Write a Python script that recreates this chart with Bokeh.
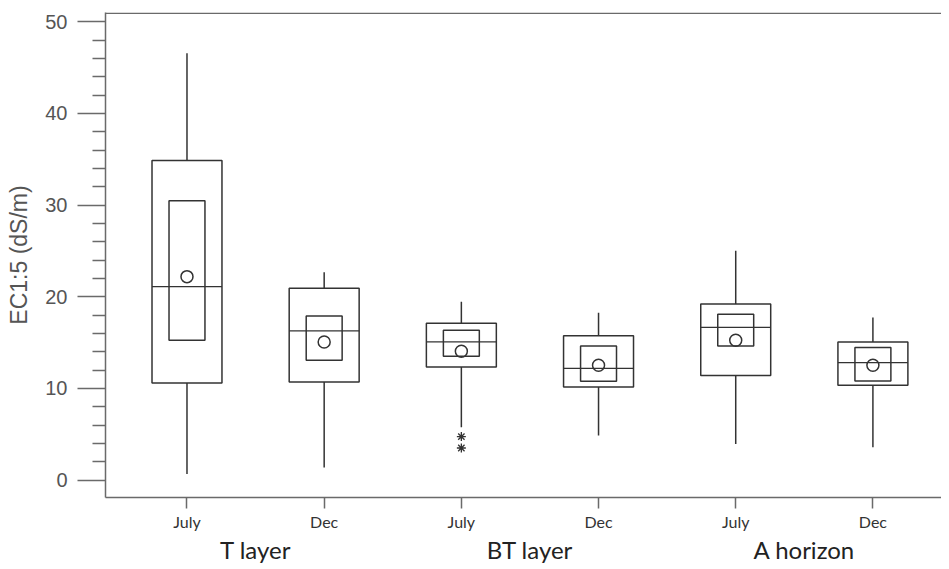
from bokeh.plotting import figure
from bokeh.models import Range1d, FixedTicker, LinearAxis, Span
from bokeh.embed import file_html
from bokeh.resources import INLINE

# ---- data ----
months = ["July", "Dec", "July", "Dec", "July", "Dec"]
groups = ["T layer", "BT layer", "A horizon"]
positions = [1, 2, 3, 4, 5, 6]
group_centers = [1.5, 3.5, 5.5]

whisker_low = [0.66, 1.38, 5.76, 4.85, 3.94, 3.57]
q1 = [10.6, 10.69, 12.33, 10.14, 11.42, 10.33]
median = [21.1, 16.28, 15.07, 12.19, 16.65, 12.81]
q3 = [34.86, 20.92, 17.1, 15.73, 19.2, 15.07]
whisker_high = [46.55, 22.67, 19.45, 18.25, 25.0, 17.74]
ci_low = [15.26, 13.07, 13.5, 10.77, 14.63, 10.8]
ci_high = [30.48, 17.89, 16.35, 14.63, 18.1, 14.46]
mean = [22.19, 15.07, 14.05, 12.52, 15.26, 12.52]
outlier_x = [3, 3]
outlier_y = [4.74, 3.5]

y_ticks = [0, 10, 20, 30, 40, 50]
y_minor = [v for v in range(2, 50, 2) if v % 10 != 0]

BOX_HALF = 0.255
CI_HALF = 0.131
LINE = "#333333"
AXIS = "#6a6a6a"

p = figure(width=941, height=566, output_backend="svg", toolbar_location=None,
           x_range=Range1d(0.406, 6.50), y_range=Range1d(-1.9, 51.0),
           min_border_left=105, min_border_right=0, min_border_top=12, min_border_bottom=0)
p.xaxis.visible = False
p.yaxis.visible = False
p.grid.visible = False
p.outline_line_color = None
p.background_fill_color = "white"
p.border_fill_color = "white"

# top frame line
p.add_layout(Span(location=50.93, dimension="width", line_color=AXIS, line_width=1.5))

# y axis
yax = LinearAxis(ticker=FixedTicker(ticks=y_ticks, minor_ticks=y_minor))
yax.axis_label = "EC1:5 (dS/m)"
yax.axis_label_text_font = "Liberation Sans"
yax.axis_label_text_font_style = "normal"
yax.axis_label_text_font_size = "23px"
yax.axis_label_text_color = "#555555"
yax.axis_label_standoff = 10
yax.major_label_text_font = "Liberation Sans"
yax.major_label_text_font_size = "20px"
yax.major_label_text_color = "#555555"
yax.major_label_standoff = 10
yax.major_tick_out = 28
yax.major_tick_in = 0
yax.minor_tick_out = 13
yax.minor_tick_in = 0
yax.axis_line_color = AXIS
yax.axis_line_width = 1.5
yax.major_tick_line_color = AXIS
yax.major_tick_line_width = 1.5
yax.minor_tick_line_color = AXIS
yax.minor_tick_line_width = 1.5
p.add_layout(yax, "left")

# x axis (months)
xax = LinearAxis(ticker=FixedTicker(ticks=positions, minor_ticks=[]))
xax.major_label_overrides = {pos: m for pos, m in zip(positions, months)}
xax.major_label_text_font = "Lato"
xax.major_label_text_font_size = "16px"
xax.major_label_text_color = "#333333"
xax.major_label_standoff = 3
xax.major_tick_out = 11
xax.major_tick_in = 0
xax.axis_line_color = AXIS
xax.axis_line_width = 1.5
xax.major_tick_line_color = AXIS
xax.major_tick_line_width = 1.5
p.add_layout(xax, "below")

# group axis
gax = LinearAxis(ticker=FixedTicker(ticks=group_centers, minor_ticks=[]))
gax.major_label_overrides = {c: g for c, g in zip(group_centers, groups)}
gax.major_label_text_font = "Lato"
gax.major_label_text_font_size = "24px"
gax.major_label_text_color = "#222222"
gax.major_label_standoff = 1
gax.major_tick_out = 0
gax.major_tick_in = 0
gax.major_tick_line_color = None
gax.axis_line_color = None
p.add_layout(gax, "below")

# whiskers
p.segment(x0=positions, y0=q3, x1=positions, y1=whisker_high, line_color=LINE, line_width=1.5)
p.segment(x0=positions, y0=whisker_low, x1=positions, y1=q1, line_color=LINE, line_width=1.5)

# outer boxes
p.quad(left=[x - BOX_HALF for x in positions], right=[x + BOX_HALF for x in positions],
       bottom=q1, top=q3, fill_color=None, line_color=LINE, line_width=1.5)
# inner (confidence) boxes
p.quad(left=[x - CI_HALF for x in positions], right=[x + CI_HALF for x in positions],
       bottom=ci_low, top=ci_high, fill_color=None, line_color=LINE, line_width=1.5)
# medians
p.segment(x0=[x - BOX_HALF for x in positions], y0=median,
          x1=[x + BOX_HALF for x in positions], y1=median, line_color=LINE, line_width=1.2)
# means
p.scatter(x=positions, y=mean, marker="circle", size=12, fill_color=None,
          line_color=LINE, line_width=1.5)
# outliers
p.scatter(x=outlier_x, y=outlier_y, marker="asterisk", size=9, line_color=LINE, line_width=1.3)

open("out.html", "w").write(file_html(p, INLINE))
